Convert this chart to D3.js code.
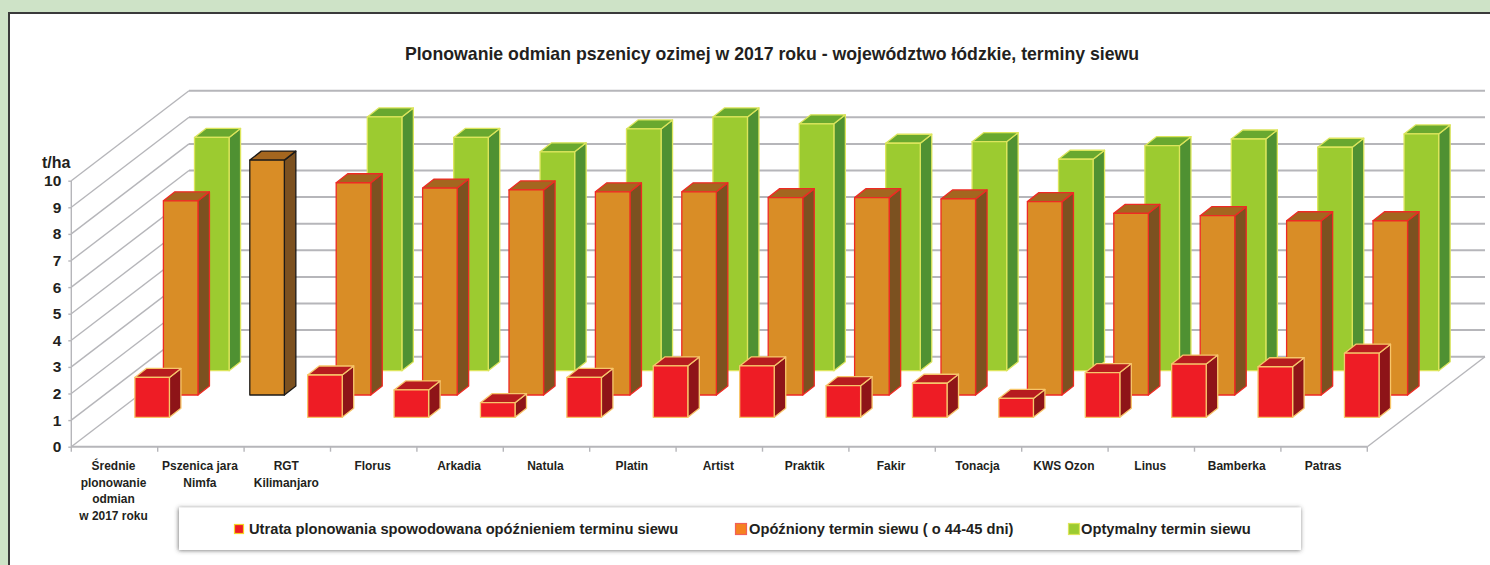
<!DOCTYPE html>
<html>
<head>
<meta charset="utf-8">
<script src="https://d3js.org/d3.v7.min.js"></script>
<style>
  html, body { margin: 0; padding: 0; background: #cee3c7; }
  text { font-family: "Liberation Sans", Arial, sans-serif; font-weight: bold; fill: #231f20; }
</style>
</head>
<body>
<div id="chart"></div>
<script>
// data, t/ha
var categories = ["Średnie\nplonowanie\nodmian\nw 2017 roku", "Pszenica jara\nNimfa", "RGT\nKilimanjaro", "Florus", "Arkadia", "Natula", "Platin", "Artist", "Praktik", "Fakir", "Tonacja", "KWS Ozon", "Linus", "Bamberka", "Patras"];
var optimal = [8.77, null, 9.54, 8.77, 8.23, 9.09, 9.54, 9.28, 8.55, 8.61, 7.95, 8.46, 8.71, 8.40, 8.90];
var delayed = [7.30, 8.83, 7.98, 7.78, 7.71, 7.64, 7.64, 7.42, 7.42, 7.37, 7.27, 6.83, 6.74, 6.55, 6.55];
var loss = [1.50, null, 1.59, 1.03, 0.55, 1.50, 1.93, 1.93, 1.19, 1.28, 0.71, 1.68, 2.00, 1.90, 2.41];
var yTicks = [0, 1, 2, 3, 4, 5, 6, 7, 8, 9, 10];
var legendLabels = ["Utrata plonowania spowodowana opóźnieniem terminu siewu", "Opóźniony termin siewu ( o 44-45 dni)", "Optymalny termin siewu"];

// set the dimensions of the graph
var width = 1490, height = 565;
var wall = {dx: 117.7, dy: 90};   // shift from the front edge to the back wall
var box = {dx: 11.5, dy: 9};      // depth of one bar

var svg = d3.select("#chart")
  .append("svg")
  .attr("width", width)
  .attr("height", height)
  .style("display", "block");

// white panel with the dark edge
svg.append("rect").attr("x", 8).attr("y", 12).attr("width", width).attr("height", height).attr("fill", "#3a3a3a");
svg.append("rect").attr("x", 10).attr("y", 14).attr("width", width).attr("height", height).attr("fill", "#fff");

// Scales
var x = d3.scaleBand()
  .domain(categories)
  .range([71.3, 1367.3])
  .paddingInner(0.6)
  .paddingOuter(0.3);

var y = d3.scaleLinear()
  .domain([0, 10])
  .range([446.7, 180.7]);

// lift of a row above the floor front edge -> sideways shift
var rowShift = d3.scaleLinear().domain([0, 90]).range([0, 115.2]);

var series = [
  {name: "optimal", values: optimal, lift: 76, fill: "#9ccb30", top: "#69a82f", side: "#4f9132", stroke: "#dce55c"},
  {name: "delayed", values: delayed, lift: 51.7, fill: "#d98d26", top: "#a4661f", side: "#7c5120", stroke: "#ee2a24"},
  {name: "loss", values: loss, lift: 29.4, fill: "#ee1c25", top: "#b71c1f", side: "#8e1418", stroke: "#f7c66b"}
];

// Title
svg.append("text")
  .attr("x", 772)
  .attr("y", 60)
  .attr("text-anchor", "middle")
  .style("font-size", "17.7px")
  .text("Plonowanie odmian pszenicy ozimej w 2017 roku - województwo łódzkie, terminy siewu");

// Walls and floor
var grid = svg.append("g").attr("fill", "none").attr("stroke", "#b6b6ba");

grid.selectAll("line.back")
  .data(yTicks)
  .enter()
  .append("line")
    .attr("class", "back")
    .attr("x1", 71.3 + wall.dx)
    .attr("x2", 1367.3 + wall.dx)
    .attr("y1", function(d){ return y(d) - wall.dy })
    .attr("y2", function(d){ return y(d) - wall.dy })
    .attr("stroke-width", 2);

grid.selectAll("line.side")
  .data(yTicks)
  .enter()
  .append("line")
    .attr("class", "side")
    .attr("x1", 71.3)
    .attr("x2", 71.3 + wall.dx)
    .attr("y1", function(d){ return y(d) })
    .attr("y2", function(d){ return y(d) - wall.dy })
    .attr("stroke-width", 1.4);

grid.append("line")
  .attr("x1", 1367.3).attr("x2", 1367.3 + wall.dx)
  .attr("y1", y(0)).attr("y2", y(0) - wall.dy)
  .attr("stroke-width", 1.4);

// Bars, back row first
function poly(points){ return points.map(function(p){ return p.join(",") }).join(" ") }

series.forEach(function(s){
  var row = svg.append("g").attr("class", s.name).attr("stroke-width", 1.3).attr("stroke-linejoin", "round");
  categories.forEach(function(c, i){
    var v = s.values[i];
    if (v === null) return;
    var x0 = x(c) + rowShift(s.lift);
    var x1 = x0 + x.bandwidth();
    var y0 = y(0) - s.lift;
    var y1 = y(v) - s.lift;
    // the one bar without the other two series has a black outline
    var stroke = s.values === delayed && loss[i] === null ? "#1c1a18" : s.stroke;
    row.append("polygon")
      .attr("points", poly([[x1, y1], [x1 + box.dx, y1 - box.dy], [x1 + box.dx, y0 - box.dy], [x1, y0]]))
      .attr("fill", s.side).attr("stroke", stroke);
    row.append("polygon")
      .attr("points", poly([[x0, y1], [x0 + box.dx, y1 - box.dy], [x1 + box.dx, y1 - box.dy], [x1, y1]]))
      .attr("fill", s.top).attr("stroke", stroke);
    row.append("rect")
      .attr("x", x0).attr("y", y1)
      .attr("width", x1 - x0).attr("height", y0 - y1)
      .attr("fill", s.fill).attr("stroke", stroke);
  });
});

// Y axis
var yAxis = svg.append("g")
  .attr("transform", "translate(71.3,0)")
  .call(d3.axisLeft(y).tickValues(yTicks).tickSize(3).tickPadding(7));
yAxis.selectAll("text").style("font-size", "15.5px");
yAxis.selectAll("line, path").attr("stroke", "#b6b6ba").attr("stroke-width", 1.4);
yAxis.select("path").attr("d", "M0," + y(10) + "V" + y(0));

svg.append("text")
  .attr("x", 42)
  .attr("y", 168)
  .style("font-size", "16px")
  .text("t/ha");

// X axis, ticks sit between the categories
var step = x.step();
var xAxis = svg.append("g")
  .attr("transform", "translate(-1," + y(0) + ")")
  .call(d3.axisBottom(x).tickSize(0).tickFormat(""));
xAxis.select("path").attr("d", "M72.3,0H1368.3").attr("stroke", "#b6b6ba").attr("stroke-width", 2);
xAxis.selectAll(".tick line")
  .attr("x1", 1 - step / 2).attr("x2", 1 - step / 2)
  .attr("y1", 0).attr("y2", 5)
  .attr("stroke", "#b6b6ba").attr("stroke-width", 1.4);
svg.append("line")
  .attr("x1", 1367.3).attr("x2", 1367.3)
  .attr("y1", y(0)).attr("y2", y(0) + 5)
  .attr("stroke", "#b6b6ba").attr("stroke-width", 1.4);

// labels look condensed in the original
xAxis.selectAll(".tick text")
  .attr("y", 23.5)
  .attr("dy", null)
  .attr("transform", "scale(0.92,1)")
  .style("font-size", "13px")
  .each(function(d){
    var t = d3.select(this);
    d.split("\n").forEach(function(line, i){
      t.append("tspan")
        .attr("x", 0)
        .attr("dy", i ? 16.5 : 0)
        .text(line);
    });
  });

// Legend
svg.append("defs").append("filter")
  .attr("id", "shadow")
  .attr("x", "-2%").attr("y", "-20%").attr("width", "104%").attr("height", "140%")
  .append("feDropShadow")
    .attr("dx", -0.5).attr("dy", 0.5).attr("stdDeviation", 2)
    .attr("flood-color", "#444").attr("flood-opacity", 0.75);

svg.append("rect")
  .attr("x", 179).attr("y", 507.5)
  .attr("width", 1122).attr("height", 42.5)
  .attr("fill", "#fff")
  .attr("filter", "url(#shadow)");

var legendX = [234.5, 735.5, 1068.5];
var legendSize = [9, 11, 11];
var legendTextX = [249, 749, 1081];
var legendStroke = ["#f5d327", "#f0605a", "#dce55c"];
var legendFill = ["#ee1c25", "#f58220", "#9ccb30"];

var legend = svg.selectAll("g.legend")
  .data(legendLabels)
  .enter()
  .append("g")
    .attr("class", "legend");

legend.append("rect")
  .attr("x", function(d, i){ return legendX[i] })
  .attr("y", function(d, i){ return 529 - legendSize[i] / 2 })
  .attr("width", function(d, i){ return legendSize[i] })
  .attr("height", function(d, i){ return legendSize[i] })
  .attr("fill", function(d, i){ return legendFill[i] })
  .attr("stroke", function(d, i){ return legendStroke[i] })
  .attr("stroke-width", 1.2);

legend.append("text")
  .attr("x", function(d, i){ return legendTextX[i] })
  .attr("y", 534)
  .style("font-size", "14.7px")
  .text(function(d){ return d });
</script>
</body>
</html>
